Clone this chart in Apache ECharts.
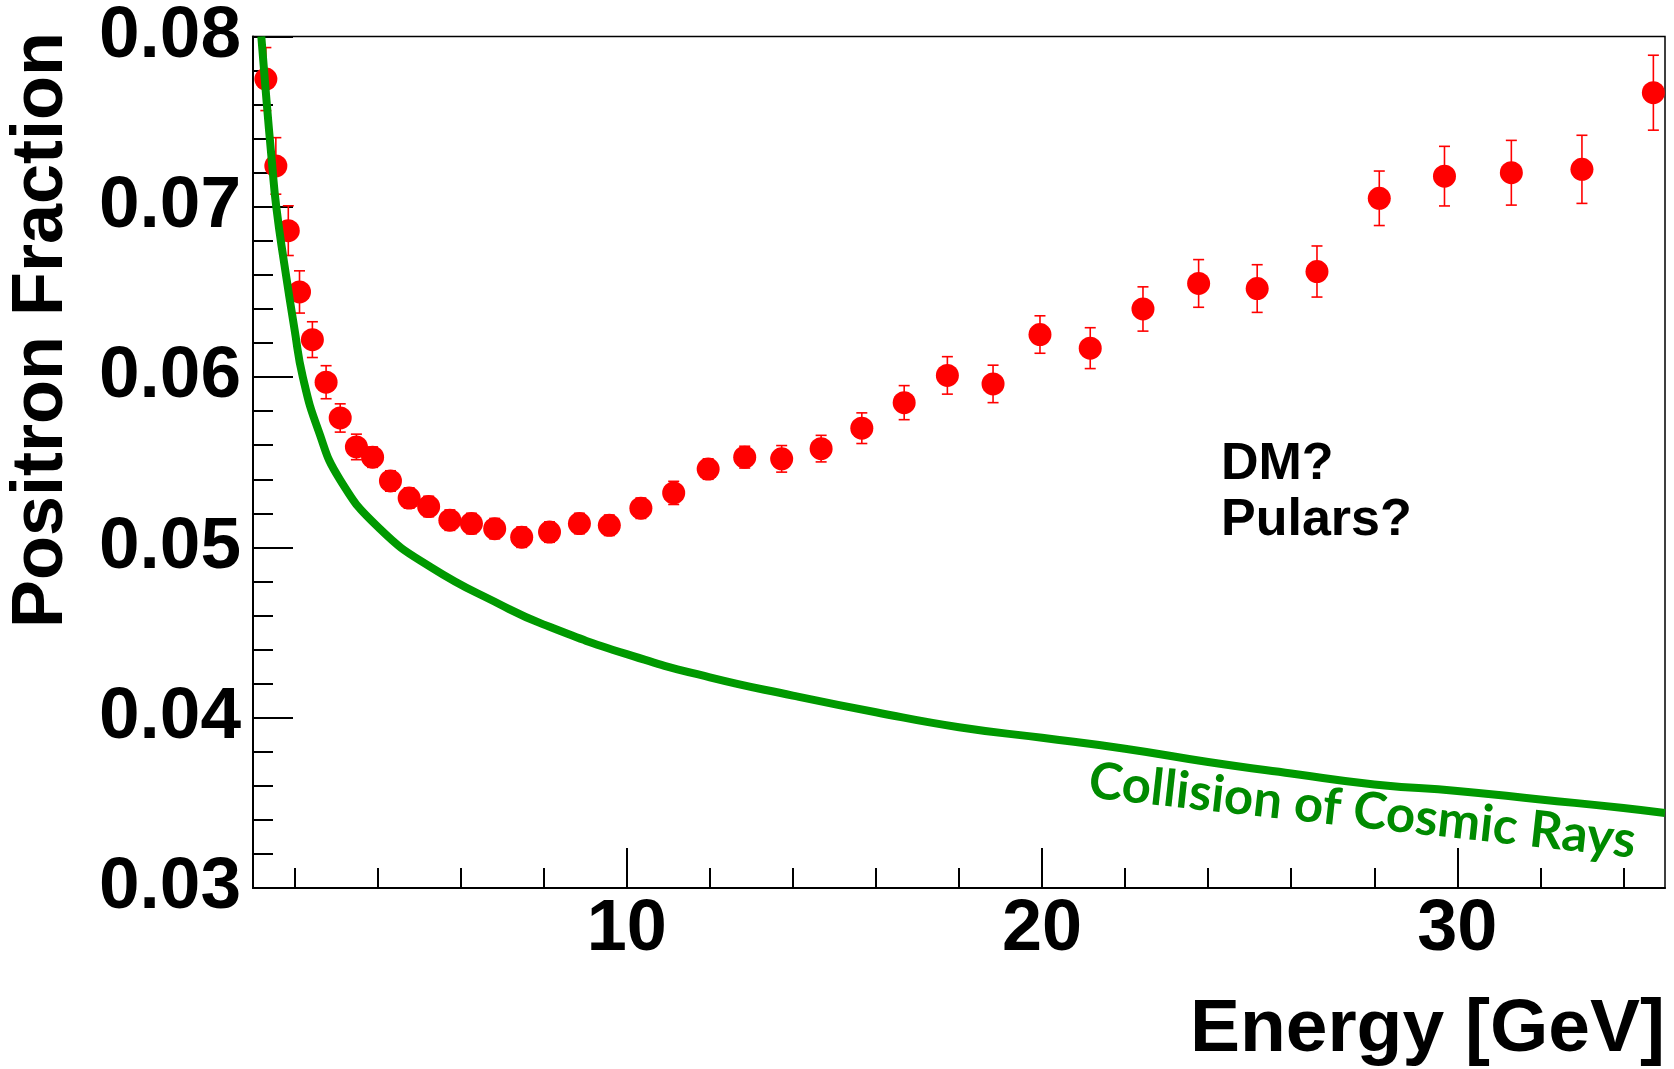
<!DOCTYPE html>
<html><head><meta charset="utf-8">
<script src="https://cdn.jsdelivr.net/npm/echarts@6/dist/echarts.min.js"></script>
<style>html,body{margin:0;padding:0;background:#fff}#c{width:1674px;height:1069px}</style>
</head><body><div id="c"></div>
<script>
// Measured positron fraction (red points with error bars)
const energy = [1.31,1.55,1.85,2.12,2.43,2.76,3.10,3.49,3.88,4.31,4.76,5.23,5.74,6.26,6.82,7.47,8.14,8.86,9.58,10.34,11.13,11.96,12.84,13.73,14.68,15.66,16.68,17.72,18.82,19.95,21.16,22.43,23.77,25.18,26.62,28.12,29.69,31.30,33.00,34.72];
const fraction = [0.0775,0.0724,0.0686,0.0650,0.0622,0.0597,0.0576,0.0559,0.0553,0.0539,0.0529,0.0524,0.0516,0.0514,0.0511,0.0506,0.0509,0.0514,0.0513,0.0523,0.0532,0.0546,0.0553,0.0552,0.0558,0.0570,0.0585,0.0601,0.0596,0.0625,0.0617,0.0640,0.0655,0.0652,0.0662,0.0705,0.0718,0.0720,0.0722,0.0767];
const fractionErr = [0.00185,0.00166,0.00146,0.00124,0.00105,0.00097,0.00083,0.00075,0.0006,0.0006,0.0006,0.0006,0.0006,0.0006,0.0006,0.0006,0.0006,0.0006,0.0006,0.0006,0.00068,0.0006,0.00064,0.00078,0.00078,0.0009,0.001,0.0011,0.0011,0.0011,0.0012,0.0013,0.0014,0.0014,0.0015,0.0016,0.00175,0.0019,0.002,0.0022];
// Secondary-production expectation (green curve)
const bgEnergy = [1.20,1.32,1.46,1.56,1.75,2.00,2.20,2.57,3.09,4.05,5.31,6.95,7.99,10,12,14,16,18,20,22,24,26,28,30,32,34,35];
const bgFraction = [0.0800,0.0764,0.0725,0.0700,0.0667,0.0628,0.0600,0.0569,0.0540,0.0511,0.0488,0.04665,0.04548,0.04373,0.04237,0.0413,0.04032,0.03944,0.03882,0.03818,0.0374,0.03672,0.03608,0.0357,0.0352,0.0347,0.0344];
// Axis ticks
const xTickLabels = [10, 20, 30];
const xMinorTicks = [2,4,6,8,12,14,16,18,22,24,26,28,32,34];
const yTickLabels = [0.03,0.04,0.05,0.06,0.07,0.08];
const yMinorTicks = [0.032,0.034,0.036,0.038,0.042,0.044,0.046,0.048,0.052,0.054,0.056,0.058,0.062,0.064,0.066,0.068,0.072,0.074,0.076,0.078];

const FONT = '"Liberation Sans", Arial, Helvetica, sans-serif';
const chart = echarts.init(document.getElementById('c'), null, {renderer:'canvas'});
const axisCommon = {
  type:'value', splitLine:{show:false}, minorTick:{show:false}
};
const option = {
  animation:false,
  backgroundColor:'#ffffff',
  grid:{left:253, top:36, right:9, bottom:181, show:true, borderColor:'#000', borderWidth:1.5, containLabel:false},
  xAxis:[
    Object.assign({}, axisCommon, {
      min:1, max:35, position:'bottom',
      axisLine:{show:true, onZero:false, lineStyle:{color:'#000', width:2}},
      axisTick:{show:true, inside:true, length:40, customValues:xTickLabels, lineStyle:{color:'#000', width:2}},
      axisLabel:{show:true, customValues:xTickLabels, margin:6, color:'#000', fontFamily:FONT, fontWeight:'bold', fontSize:72}
    }),
    Object.assign({}, axisCommon, {
      min:1, max:35, position:'bottom',
      axisLine:{show:false},
      axisTick:{show:true, inside:true, length:20, customValues:xMinorTicks, lineStyle:{color:'#000', width:2}},
      axisLabel:{show:false}
    })
  ],
  yAxis:[
    Object.assign({}, axisCommon, {
      min:0.03, max:0.08, position:'left',
      axisLine:{show:true, onZero:false, lineStyle:{color:'#000', width:2}},
      axisTick:{show:true, inside:true, length:40, customValues:yTickLabels, lineStyle:{color:'#000', width:2}},
      axisLabel:{show:true, customValues:yTickLabels, margin:12, color:'#000', fontFamily:FONT, fontWeight:'bold', fontSize:73,
        formatter:v=>Number(v).toFixed(2)}
    }),
    Object.assign({}, axisCommon, {
      min:0.03, max:0.08, position:'left',
      axisLine:{show:false},
      axisTick:{show:true, inside:true, length:20, customValues:yMinorTicks, lineStyle:{color:'#000', width:2}},
      axisLabel:{show:false}
    })
  ],
  series:[
    {
      type:'custom', name:'errors', xAxisIndex:0, yAxisIndex:0, z:2,
      data: energy.map((x,i)=>[x, fraction[i], fractionErr[i]]),
      encode:{x:0, y:1},
      renderItem(params, api){
        const x = api.value(0), y = api.value(1), e = api.value(2);
        const t = api.coord([x, y+e]), b = api.coord([x, y-e]);
        const hw = 5.5;
        const st = {stroke:'#ff0000', lineWidth:1.6};
        return {type:'group', children:[
          {type:'line', shape:{x1:t[0], y1:t[1], x2:b[0], y2:b[1]}, style:st},
          {type:'line', shape:{x1:t[0]-hw, y1:t[1], x2:t[0]+hw, y2:t[1]}, style:st},
          {type:'line', shape:{x1:b[0]-hw, y1:b[1], x2:b[0]+hw, y2:b[1]}, style:st}
        ]};
      }
    },
    {
      type:'scatter', name:'Positron fraction', xAxisIndex:0, yAxisIndex:0, z:3,
      symbol:'circle', symbolSize:23, itemStyle:{color:'#ff0000', opacity:1},
      data: energy.map((x,i)=>[x, fraction[i]])
    },
    {
      type:'line', name:'Collision of Cosmic Rays', xAxisIndex:0, yAxisIndex:0, z:4,
      showSymbol:false, symbol:'none', smooth:0.5, clip:true,
      lineStyle:{color:'#009900', width:8},
      data: bgEnergy.map((x,i)=>[x, bgFraction[i]])
    }
  ],
  graphic:[
    {type:'text', x:42, y:32, rotation:Math.PI/2, z:10,
      style:{text:'Positron Fraction', fill:'#000', font:'bold 72px '+FONT, textAlign:'right', textVerticalAlign:'middle'}},
    {type:'text', x:1665, y:1030, z:10,
      style:{text:'Energy [GeV]', fill:'#000', font:'bold 75px '+FONT, textAlign:'right', textVerticalAlign:'middle'}},
    {type:'text', x:1221, y:465, z:10,
      style:{text:'DM?', fill:'#000', font:'bold 52px '+FONT, textAlign:'left', textVerticalAlign:'middle'}},
    {type:'text', x:1221, y:521, z:10,
      style:{text:'Pulars?', fill:'#000', font:'bold 52px '+FONT, textAlign:'left', textVerticalAlign:'middle'}},
    {type:'text', x:1089, y:781, rotation:-0.11, z:10,
      style:{text:'Collision of Cosmic Rays', fill:'#008a00', font:'bold 51px Lato, "Open Sans", sans-serif', textAlign:'left', textVerticalAlign:'middle'}}
  ]
};
chart.setOption(option);
</script>
</body></html>
